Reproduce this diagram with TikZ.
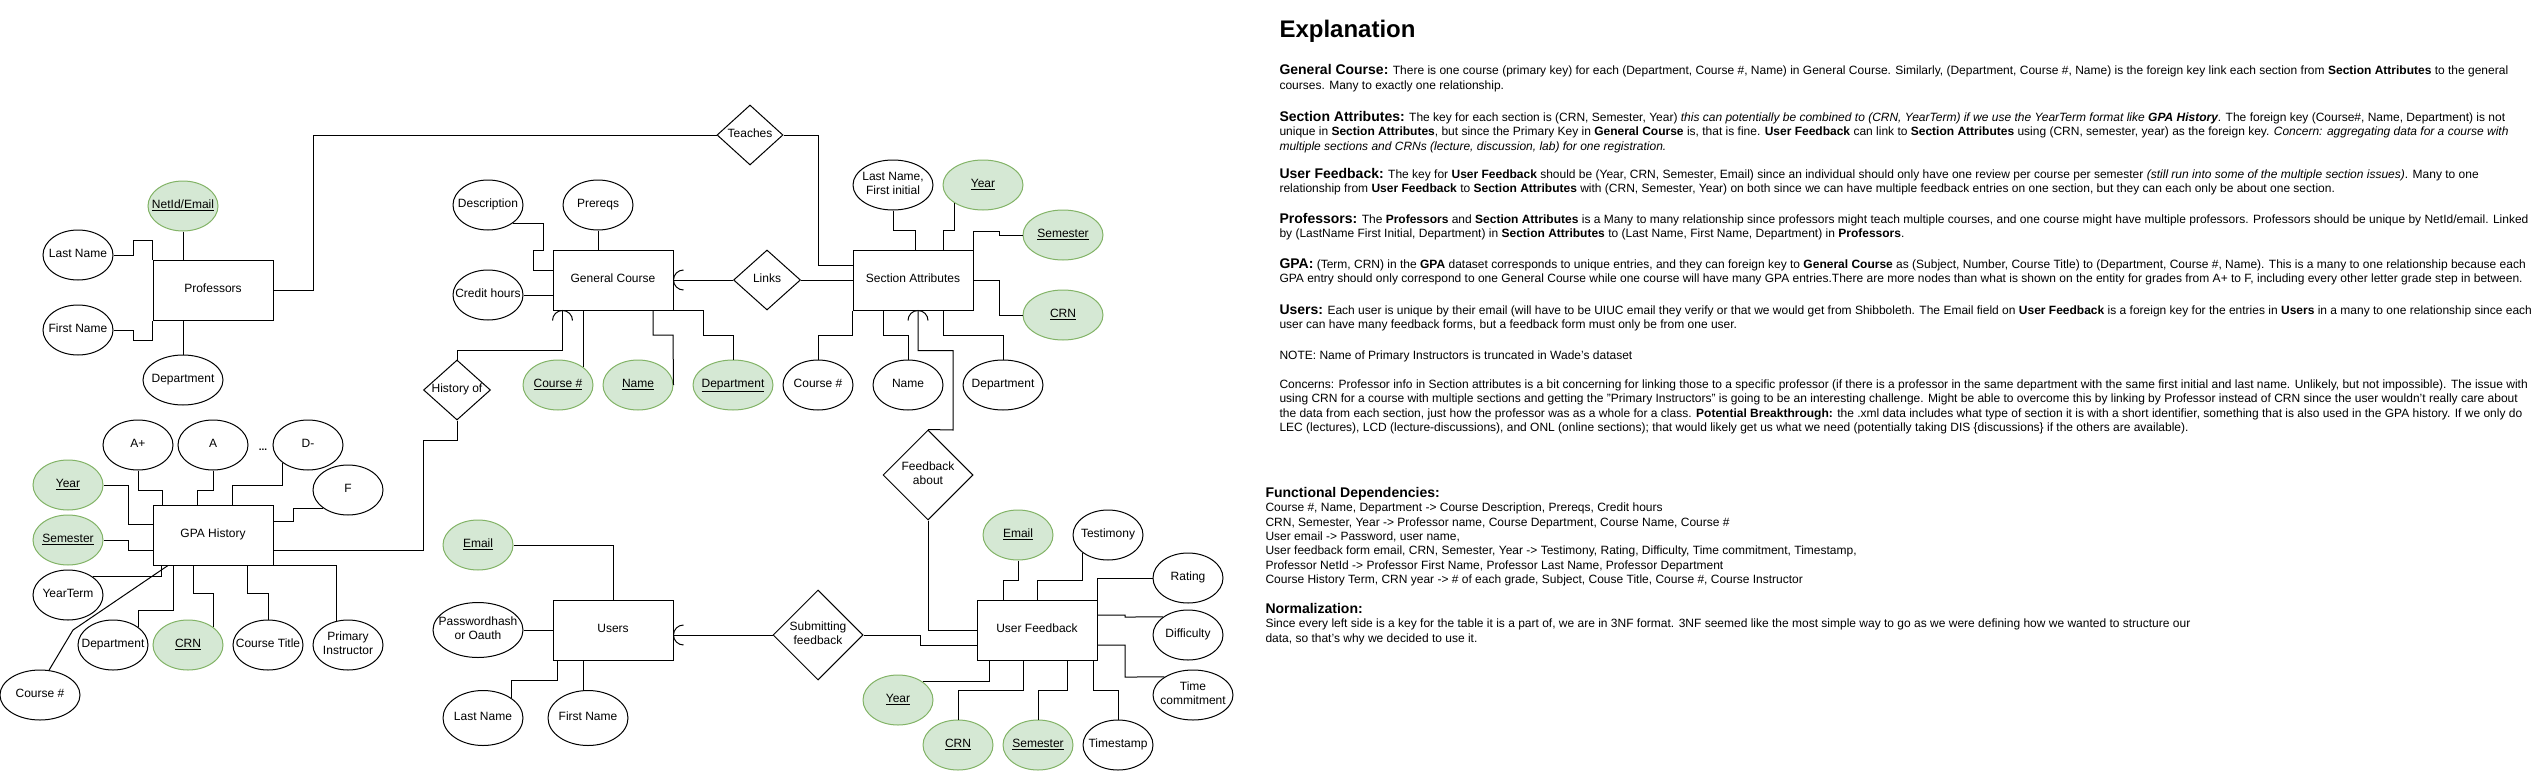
\documentclass[tikz,border=0pt]{standalone}
\usepackage{fontspec}
\setmainfont{Liberation Sans}
\usepackage{xcolor}
\usetikzlibrary{shapes.geometric}
\definecolor{keyFill}{HTML}{D5E8D4}
\definecolor{keyLine}{HTML}{82B366}
\newcommand\pk[1]{\underline{#1}}
\newcommand\lbl[1]{{\fontsize{14}{14.5}\selectfont\bfseries #1}}
% zero-width text, so shapes keep their set size
\newcommand\zt[1]{\makebox[0pt]{\begin{tabular}{@{}c@{}}#1\end{tabular}}}

\begin{document}
\begin{tikzpicture}[
  x=1pt, y=-1pt, line width=1pt,
  font=\fontsize{12}{14}\selectfont,
  ent/.style  = {draw, rectangle, minimum width=120pt, minimum height=60pt, inner sep=0pt},
  att/.style  = {draw, ellipse, minimum width=70pt, minimum height=50pt, inner sep=0pt},
  wd80/.style = {minimum width=80pt},
  key/.style  = {att, draw=keyLine, fill=keyFill},
  rel/.style  = {draw, diamond, minimum width=67pt, minimum height=60pt, inner sep=0pt},
  para/.style = {anchor=north west, inner sep=0pt, align=left,
                 font=\fontsize{12}{14.5}\selectfont},
  fd/.style   = {para, font=\fontsize{12}{14.3}\selectfont},
]
\useasboundingbox (0,0) rectangle (2534,771);

% ---------- Professors
\node[ent]       (prof)   at (213,290) {\zt{Professors}};
\node[key]       (pnet)   at (183,206) {\zt{\pk{NetId/Email}}};
\node[att]       (plast)  at (78,255)  {\zt{Last Name}};
\node[att]       (pfirst) at (78,330)  {\zt{First Name}};
\node[att, wd80] (pdept)  at (183,380) {\zt{Department}};

% ---------- General Course
\node[ent]       (gc)     at (613,280) {\zt{General Course}};
\node[att]       (gdesc)  at (488,205) {\zt{Description}};
\node[att]       (gpre)   at (598,205) {\zt{Prereqs}};
\node[att]       (gcred)  at (488,295) {\zt{Credit hours}};
\node[key]       (gnum)   at (558,385) {\zt{\pk{Course \#}}};
\node[key]       (gname)  at (638,385) {\zt{\pk{Name}}};
\node[key, wd80] (gdept)  at (733,385) {\zt{\pk{Department}}};

% ---------- Section Attributes
\node[ent]       (sa)     at (913,280) {\zt{Section Attributes}};
\node[att, wd80] (sprof)  at (893,185) {\zt{Last Name,\\First initial}};
\node[key, wd80] (syear)  at (983,185) {\zt{\pk{Year}}};
\node[key, wd80] (ssem)   at (1063,235) {\zt{\pk{Semester}}};
\node[key, wd80] (scrn)   at (1063,315) {\zt{\pk{CRN}}};
\node[att]       (snum)   at (818,385) {\zt{Course \#}};
\node[att]       (sname)  at (908,385) {\zt{Name}};
\node[att, wd80] (sdept)  at (1003,385) {\zt{Department}};

% ---------- relationships
\node[rel, minimum width=66pt] (teach) at (750,135) {\zt{Teaches}};
\node[rel]       (links)  at (767,280) {\zt{Links}};
\node[rel]       (hist)   at (457,390) {\zt{History of}};
\node[rel, minimum width=90pt, minimum height=90pt] (fabout) at (928,475) {\zt{Feedback\\about}};
\node[rel, minimum width=90pt, minimum height=90pt] (submit) at (818,635) {\zt{Submitting\\feedback}};

% ---------- User Feedback
\node[ent]       (uf)     at (1037,630) {\zt{User Feedback}};
\node[key]       (femail) at (1018,535) {\zt{\pk{Email}}};
\node[att]       (ftest)  at (1108,535) {\zt{Testimony}};
\node[att]       (frate)  at (1188,578) {\zt{Rating}};
\node[att]       (fdiff)  at (1188,635) {\zt{Difficulty}};
\node[att, wd80] (ftime)  at (1193,695) {\zt{Time\\commitment}};
\node[key]       (fyear)  at (898,700)  {\zt{\pk{Year}}};
\node[key]       (fcrn)   at (958,745)  {\zt{\pk{CRN}}};
\node[key]       (fsem)   at (1038,745) {\zt{\pk{Semester}}};
\node[att]       (fstamp) at (1118,745) {\zt{Timestamp}};

% ---------- Users
\node[ent]       (users)  at (613,630) {\zt{Users}};
\node[key]       (uemail) at (478,545) {\zt{\pk{Email}}};
\node[att, minimum width=90pt, minimum height=55pt] (upass) at (478,630) {\zt{Passwordhash\\or Oauth}};
\node[att, wd80, minimum height=55pt] (ulast)  at (483,718) {\zt{Last Name}};
\node[att, wd80, minimum height=55pt] (ufirst) at (588,718) {\zt{First Name}};

% ---------- GPA History
\node[ent]       (gpa)    at (213,535) {\zt{GPA History}};
\node[att]       (gap)    at (138,445) {\zt{A+}};
\node[att]       (ga)     at (213,445) {\zt{A}};
\node[font=\bfseries] (gdots) at (263,450) {...};
\node[att]       (gdm)    at (308,445) {\zt{D-}};
\node[att]       (gf)     at (348,490) {\zt{F}};
\node[key]       (gyear)  at (68,485)  {\zt{\pk{Year}}};
\node[key]       (gsem)   at (68,540)  {\zt{\pk{Semester}}};
\node[att]       (gterm)  at (68,595)  {\zt{YearTerm}};
\node[att, wd80] (gnumb)  at (40,695)  {\zt{Course \#}};
\node[att]       (gdep)   at (113,645) {\zt{Department}};
\node[key]       (gcrn)   at (188,645) {\zt{\pk{CRN}}};
\node[att]       (gtitle) at (268,645) {\zt{Course Title}};
\node[att]       (ginst)  at (348,645) {\zt{Primary\\Instructor}};

% ---------- connectors
\draw (pnet.south) -- (pnet.south |- prof.north);
\draw (plast.east) -| (133,240) -| (prof.north west);
\draw (pfirst.east) -| (133,340) -| (prof.south west);
\draw (pdept.north) -- (pdept.north |- prof.south);
\draw (prof.east) -| (313,135) -- (teach.west);
\draw (teach.east) -| (818,265) -- ([yshift=15pt]sa.west);

\draw (gdesc.south east) -| (543,250) -| (533,270) -- ([yshift=10pt]gc.west);
\draw (gpre.south) -- (gpre.south |- gc.north);
\draw (gcred.east) -- (gcred.east -| gc.west);
\draw (gc.east) -- (links.west);
\draw ([xshift=10pt,yshift=10pt]gc.east) arc[start angle=90, end angle=270, radius=10pt];
\draw (links.east) -- (sa.west);
\draw ([xshift=10pt]gc.south west) -- ++(0,40) -| (hist.north);
\draw ([yshift=-10pt]gc.south west) arc[start angle=180, end angle=0, radius=10pt];
\draw (hist.south) |- (423,440) -- (423,550) -- ([yshift=-15pt]gpa.east);
\draw (gnum.north east) -- (gnum.north east |- gc.south);
\draw (gname.east) -- (673,335) -| ([xshift=40pt]gc.south);
\draw (gdept.north) |- (703,335) |- (gc.south east);

\draw (sprof.south) |- (915,230) -- ([xshift=2pt]sa.north);
\draw (syear.south west) |- (943,230) -- ([xshift=30pt]sa.north);
\draw (ssem.west) -| (999,231) -| (sa.north east);
\draw (sa.east) -| (999,315) -- (scrn.west);
\draw (sa.south west) -- ++(0,25) -| (snum.north);
\draw ([xshift=-30pt]sa.south) -- ++(0,25) -| (sname.north);
\draw ([xshift=30pt]sa.south) -- ++(0,25) -| (sdept.north);
\draw ([xshift=5pt]sa.south) -- ++(0,40) -| (953,430) -- (fabout.north);
\draw ([xshift=-5pt,yshift=-10pt]sa.south) arc[start angle=180, end angle=0, radius=10pt];
\draw (fabout.south) |- (uf.west);

\draw (submit.east) -| (920,645) -- ([yshift=-15pt]uf.west);
\draw ([yshift=-5pt]users.east) -- (submit.west);
\draw ([xshift=10pt,yshift=5pt]users.east) arc[start angle=90, end angle=270, radius=10pt];
\draw (femail.south) |- (1003,580) -- ([xshift=-34pt]uf.north);
\draw (ftest.south west) |- (1037,580) -- (uf.north);
\draw (frate.west) -| (uf.north east);
\draw ([yshift=15pt]uf.east) -| (1125,617) -- (fdiff.north west);
\draw ([yshift=-15pt]uf.east) -| (1125,677) -- (ftime.north west);
\draw ([xshift=-48pt]uf.south) |- (fyear.north east);
\draw ([xshift=-14pt]uf.south) -- ++(0,30) -| (fcrn.north);
\draw ([xshift=30pt]uf.south) -- ++(0,30) -| (fsem.north);
\draw ([xshift=56pt]uf.south) -- ++(0,30) -| (fstamp.north);

\draw (uemail.east) -| (users.north);
\draw (upass.east) -- (users.west);
\draw ([xshift=-56pt]users.south) -- ++(0,20) -| (ulast.north east);
\coordinate (ufx) at ([xshift=-30pt]users.south);
\draw (ufx) -- (ufx |- ufirst.north);

\draw (gap.south) -- ++(0,20) -| ([xshift=-51pt]gpa.north);
\draw (ga.south) -- ++(0,20) -| ([xshift=-16pt]gpa.north);
\draw (gdm.south west) -- ++(0,22) -| ([xshift=19pt]gpa.north);
\draw (gf.south west) -| (293,521) -- ([yshift=14pt]gpa.east);
\draw (gyear.east) -| (128,524) -- ([yshift=11pt]gpa.west);
\draw (gsem.east) -| (128,550) -- ([yshift=-15pt]gpa.west);
\draw (gterm.north east) -| ([xshift=-52pt]gpa.south);
\draw (gnumb.70) -- (73,630) -- ([xshift=-45pt]gpa.south);
\draw (gdep.north east) |- (173,610) -- ([xshift=-40pt]gpa.south);
\draw ([xshift=-20pt]gpa.south) -- ++(0,28) -| (gcrn.north east);
\draw ([xshift=34pt]gpa.south) -- ++(0,28) -| (gtitle.north);
\draw (gpa.south east) -| (ginst.115);

% ---------- explanation text
\node[anchor=base west, inner sep=0pt, font=\fontsize{24}{28}\selectfont\bfseries] (title) at (1279,37.5) {Explanation};
\node[para] (tGC) at (1279,64) {\rule{0pt}{10pt}\lbl{General Course:} There is one course (primary key) for each (Department, Course \#, Name) in General Course. Similarly, (Department, Course \#, Name) is the foreign key link each section from \textbf{Section Attributes} to the general\\courses. Many to exactly one relationship.};
\node[para] (tSA) at (1279,110.5) {\rule{0pt}{10pt}\lbl{Section Attributes:} The key for each section is (CRN, Semester, Year) \textit{this can potentially be combined to (CRN, YearTerm) if we use the YearTerm format like \textbf{GPA History}}. The foreign key (Course\#, Name, Department) is not\\unique in \textbf{Section Attributes}, but since the Primary Key in \textbf{General Course} is, that is fine. \textbf{User Feedback} can link to \textbf{Section Attributes} using (CRN, semester, year) as the foreign key. \textit{Concern: aggregating data for a course with}\\\textit{multiple sections and CRNs (lecture, discussion, lab) for one registration.}};
\node[para] (tUF) at (1279,167.5) {\rule{0pt}{10pt}\lbl{User Feedback:} The key for \textbf{User Feedback} should be (Year, CRN, Semester, Email) since an individual should only have one review per course per semester \textit{(still run into some of the multiple section issues)}. Many to one\\relationship from \textbf{User Feedback} to \textbf{Section Attributes} with (CRN, Semester, Year) on both since we can have multiple feedback entries on one section, but they can each only be about one section.};
\node[para] (tPR) at (1279,212.5) {\rule{0pt}{10pt}\lbl{Professors:} The \textbf{Professors} and \textbf{Section Attributes} is a Many to many relationship since professors might teach multiple courses, and one course might have multiple professors. Professors should be unique by NetId/email. Linked\\by (LastName First Initial, Department) in \textbf{Section Attributes} to (Last Name, First Name, Department) in \textbf{Professors}.};
\node[para] (tGPA) at (1279,257.5) {\rule{0pt}{10pt}\lbl{GPA:} (Term, CRN) in the \textbf{GPA} dataset corresponds to unique entries, and they can foreign key to \textbf{General Course} as (Subject, Number, Course Title) to (Department, Course \#, Name). This is a many to one relationship because each\\GPA entry should only correspond to one General Course while one course will have many GPA entries.There are more nodes than what is shown on the entity for grades from A+ to F, including every other letter grade step in between.};
\node[para] (tUS) at (1279,303.5) {\rule{0pt}{10pt}\lbl{Users:} Each user is unique by their email (will have to be UIUC email they verify or that we would get from Shibboleth. The Email field on \textbf{User Feedback} is a foreign key for the entries in \textbf{Users} in a many to one relationship since each\\user can have many feedback forms, but a feedback form must only be from one user.};
\node[para] (tNT) at (1279,348.5) {\rule{0pt}{10pt}NOTE: Name of Primary Instructors is truncated in Wade's dataset};
\node[para] (tCN) at (1279,377.5) {\rule{0pt}{10pt}Concerns: Professor info in Section attributes is a bit concerning for linking those to a specific professor (if there is a professor in the same department with the same first initial and last name. Unlikely, but not impossible). The issue with\\using CRN for a course with multiple sections and getting the "Primary Instructors" is going to be an interesting challenge. Might be able to overcome this by linking by Professor instead of CRN since the user wouldn't really care about\\the data from each section, just how the professor was as a whole for a class. \textbf{Potential Breakthrough:} the .xml data includes what type of section it is with a short identifier, something that is also used in the GPA history. If we only do\\LEC (lectures), LCD (lecture-discussions), and ONL (online sections); that would likely get us what we need (potentially taking DIS \{discussions\} if the others are available).};

\node[fd] (tFD) at (1265,487) {\rule{0pt}{10pt}\lbl{Functional Dependencies:}\\Course \#, Name, Department -> Course Description, Prereqs, Credit hours\\CRN, Semester, Year -> Professor name, Course Department, Course Name, Course \#\\User email -> Password, user name,\\User feedback form email, CRN, Semester, Year -> Testimony, Rating, Difficulty, Time commitment, Timestamp,\\Professor NetId -> Professor First Name, Professor Last Name, Professor Department\\Course History Term, CRN year -> \# of each grade, Subject, Couse Title, Course \#, Course Instructor};
\node[fd] (tNF) at (1265,603) {\rule{0pt}{10pt}\lbl{Normalization:}\\Since every left side is a key for the table it is a part of, we are in 3NF format. 3NF seemed like the most simple way to go as we were defining how we wanted to structure our\\data, so that's why we decided to use it.};
\end{tikzpicture}
\end{document}
